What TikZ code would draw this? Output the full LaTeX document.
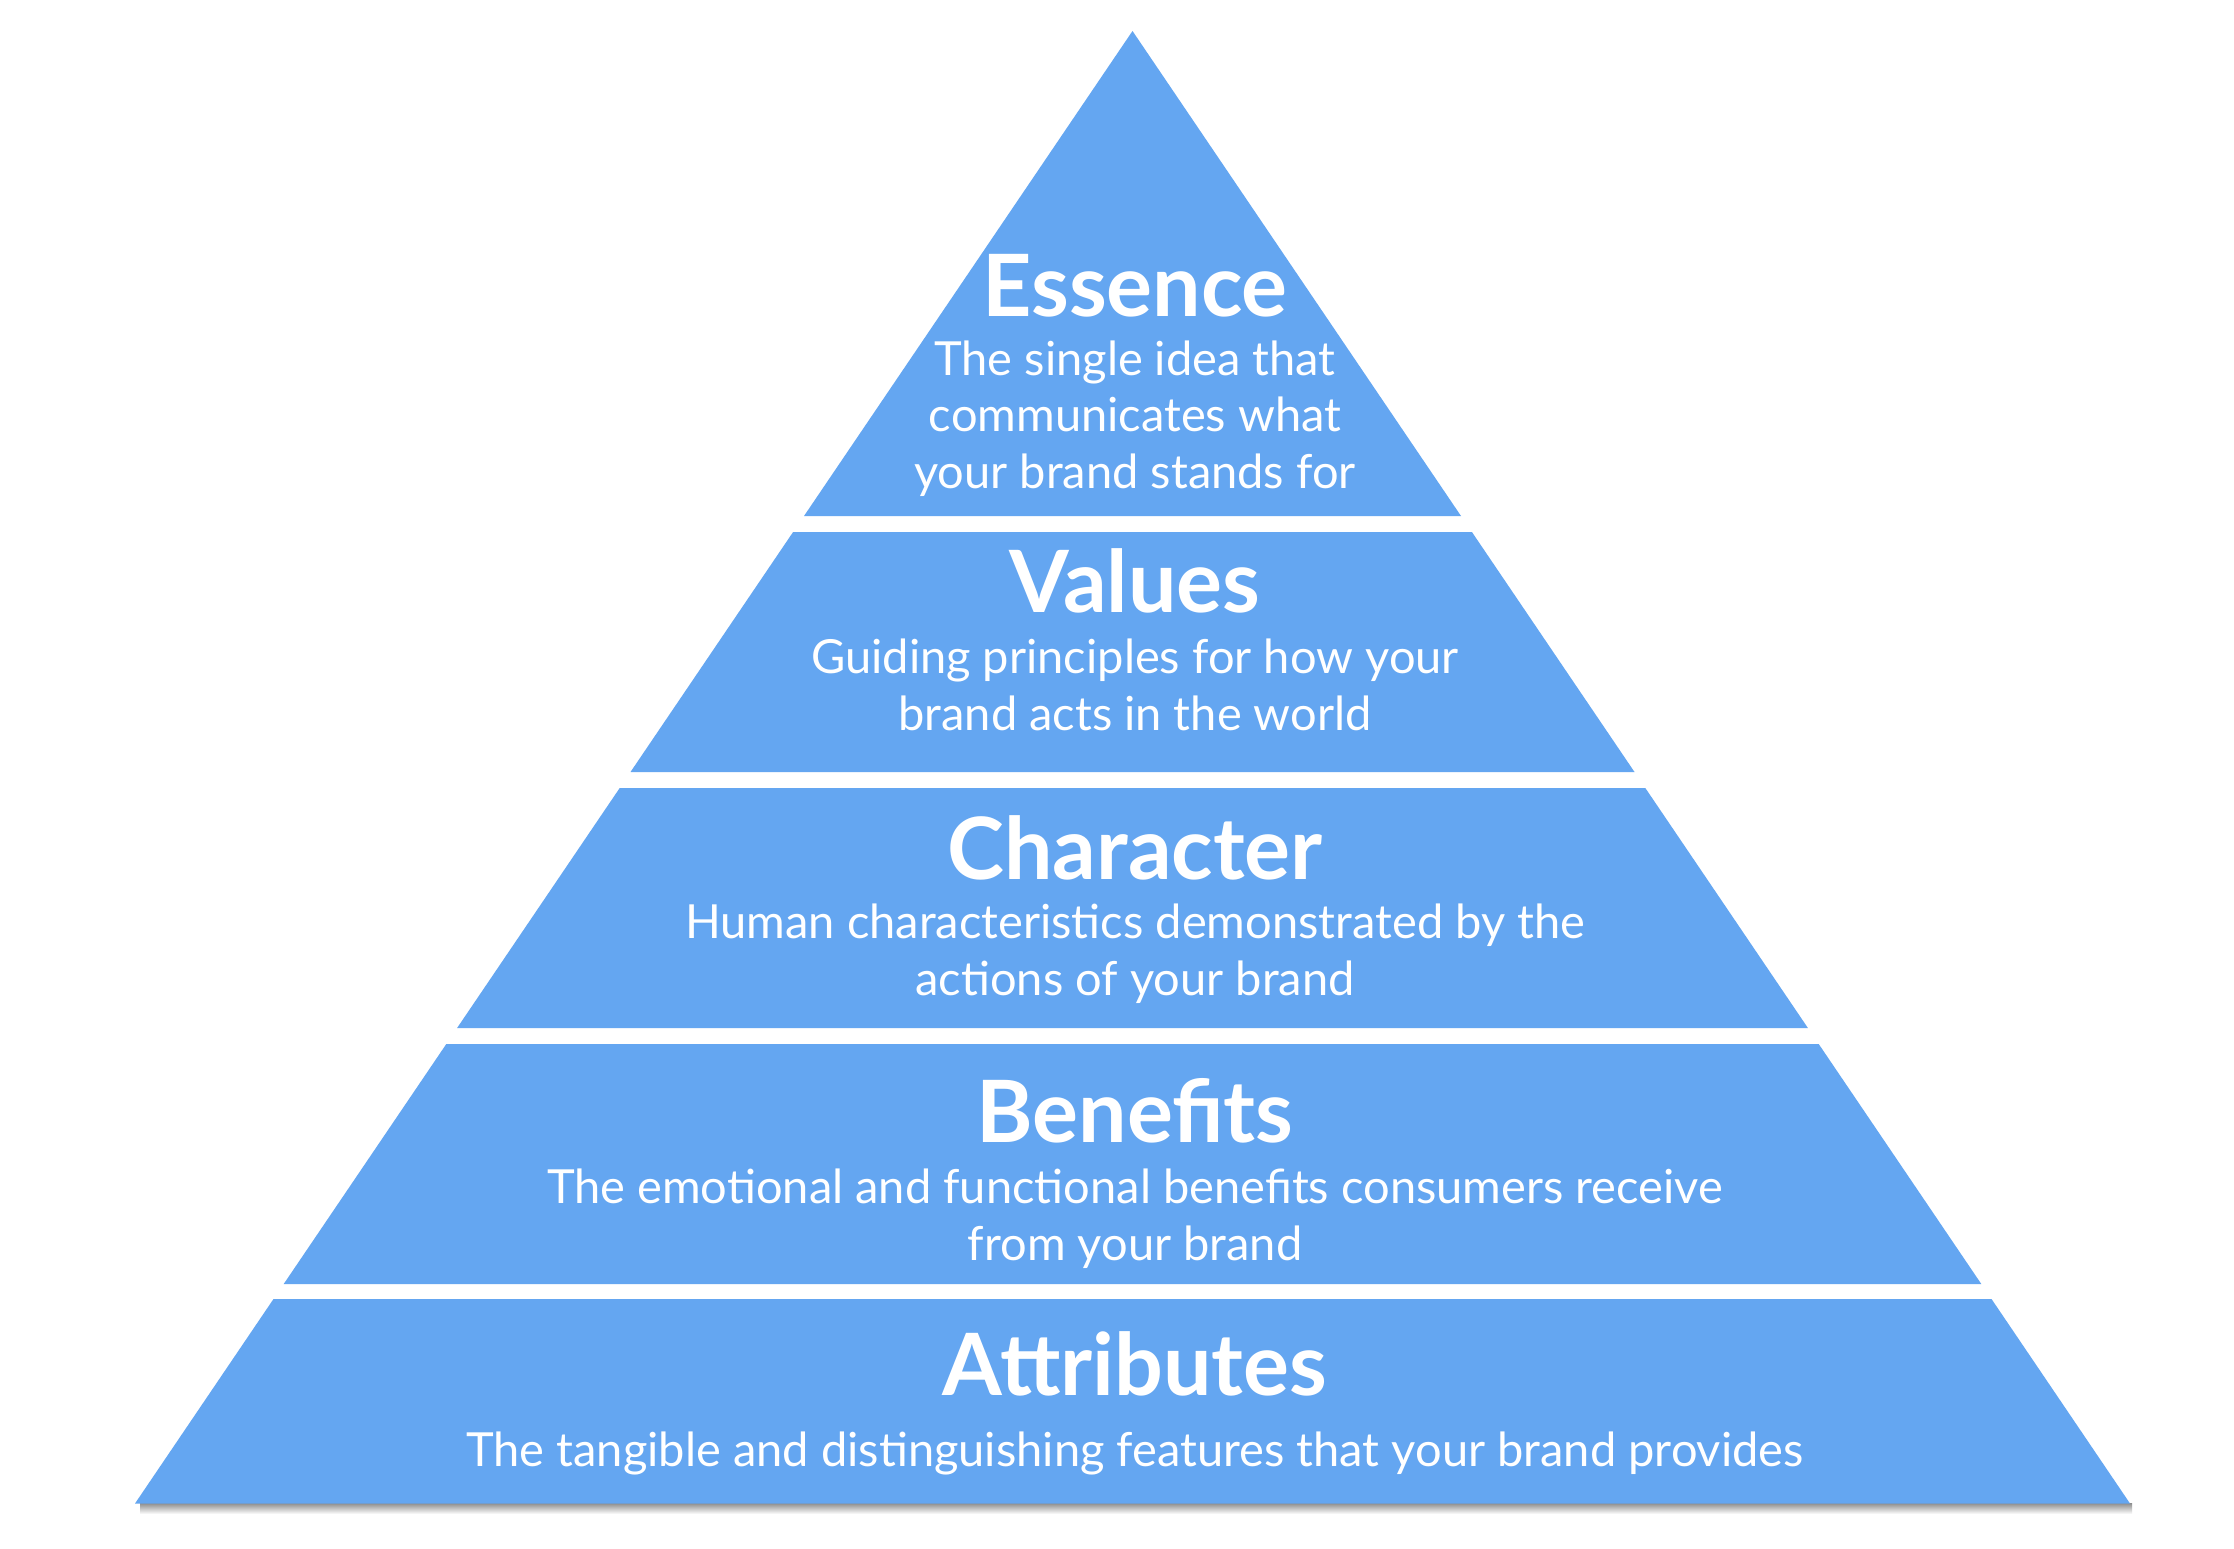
\documentclass[tikz,border=0pt]{standalone}
\usepackage{fontspec}
\setmainfont{Lato}
\definecolor{pyr}{RGB}{100,166,241}
\begin{document}
\begin{tikzpicture}[x=1pt,y=-1pt,
  band/.style={fill=pyr,draw=none},
  head/.style={text=white,font=\fontsize{86}{92}\selectfont\bfseries,inner sep=0pt,anchor=base},
  body/.style={text=white,font=\fontsize{47}{56.5}\selectfont,align=center,inner sep=0pt,anchor=base}]
\useasboundingbox[fill=white] (0,0) rectangle (2234,1548);
% shadow
\shade[top color=black!45,bottom color=white] (140,1503) rectangle (2132,1514);
% bands
\path[band] (1132.5,31) -- (1461,516) -- (804,516) -- cycle;
\path[band] (793.1,532) -- (1471.9,532) -- (1634.5,772) -- (630.5,772) -- cycle;
\path[band] (619.7,788) -- (1645.3,788) -- (1807.9,1028) -- (457.1,1028) -- cycle;
\path[band] (446.3,1044) -- (1818.7,1044) -- (1981.3,1284) -- (283.7,1284) -- cycle;
\path[band] (273.5,1299) -- (1991.5,1299) -- (2130,1503.5) -- (135,1503.5) -- cycle;
% texts (body anchors at baseline of last line)
\node[head] (essT) at (1135,316) {Essence};
\node[body] (essB) at (1135,488) {The single idea that\\communicates what\\your brand stands for};
\node[head] (valT) at (1135,612) {Values};
\node[body] (valB) at (1135,730) {Guiding principles for how your\\brand acts in the world};
\node[head] (chaT) at (1135,879) {Character};
\node[body] (chaB) at (1135,995) {Human characteristics demonstrated by the\\actions of your brand};
\node[head] (benT) at (1135,1142) {Benefits};
\node[body] (benB) at (1135,1260) {The emotional and functional benefits consumers receive\\from your brand};
\node[head] (attT) at (1135,1395) {Attributes};
\node[body] (attB) at (1135,1466) {The tangible and distinguishing features that your brand provides};
\end{tikzpicture}
\end{document}
